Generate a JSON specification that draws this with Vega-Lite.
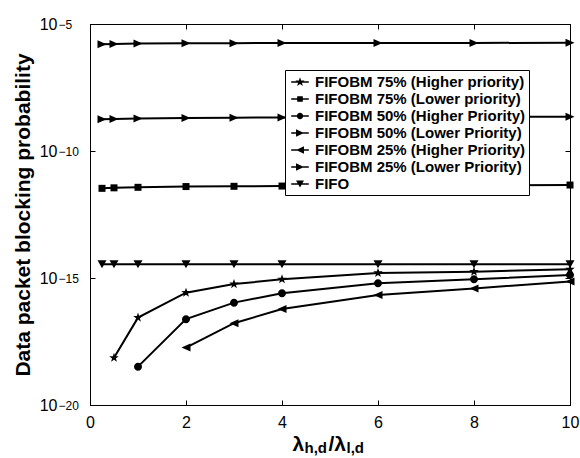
{
  "$schema": "https://vega.github.io/schema/vega-lite/v6.json",
  "width": 480,
  "height": 381,
  "autosize": {"type": "none"},
  "padding": {"left": 90, "top": 24, "right": 10, "bottom": 53},
  "config": {
    "font": "Liberation Sans",
    "view": {"stroke": "black", "strokeWidth": 1},
    "axis": {"grid": false, "domainColor": "black", "tickColor": "black", "labelColor": "black", "titleColor": "black", "labelFont": "Liberation Sans", "titleFont": "Liberation Sans"}
  },
  "datasets": {
    "d": [
      {"series": "FIFOBM 25% (Lower Priority)", "ratio": 0.25, "prob": 1.585e-6},
      {"series": "FIFOBM 25% (Lower Priority)", "ratio": 0.5, "prob": 1.622e-6},
      {"series": "FIFOBM 25% (Lower Priority)", "ratio": 1, "prob": 1.698e-6},
      {"series": "FIFOBM 25% (Lower Priority)", "ratio": 2, "prob": 1.738e-6},
      {"series": "FIFOBM 25% (Lower Priority)", "ratio": 3, "prob": 1.758e-6},
      {"series": "FIFOBM 25% (Lower Priority)", "ratio": 4, "prob": 1.778e-6},
      {"series": "FIFOBM 25% (Lower Priority)", "ratio": 6, "prob": 1.778e-6},
      {"series": "FIFOBM 25% (Lower Priority)", "ratio": 8, "prob": 1.799e-6},
      {"series": "FIFOBM 25% (Lower Priority)", "ratio": 10, "prob": 1.82e-6},
      {"series": "FIFOBM 50% (Lower Priority)", "ratio": 0.25, "prob": 1.778e-9},
      {"series": "FIFOBM 50% (Lower Priority)", "ratio": 0.5, "prob": 1.82e-9},
      {"series": "FIFOBM 50% (Lower Priority)", "ratio": 1, "prob": 1.905e-9},
      {"series": "FIFOBM 50% (Lower Priority)", "ratio": 2, "prob": 1.995e-9},
      {"series": "FIFOBM 50% (Lower Priority)", "ratio": 3, "prob": 2.042e-9},
      {"series": "FIFOBM 50% (Lower Priority)", "ratio": 4, "prob": 2.089e-9},
      {"series": "FIFOBM 50% (Lower Priority)", "ratio": 6, "prob": 2.138e-9},
      {"series": "FIFOBM 50% (Lower Priority)", "ratio": 8, "prob": 2.188e-9},
      {"series": "FIFOBM 50% (Lower Priority)", "ratio": 10, "prob": 2.239e-9},
      {"series": "FIFOBM 75% (Lower priority)", "ratio": 0.25, "prob": 3.388e-12},
      {"series": "FIFOBM 75% (Lower priority)", "ratio": 0.5, "prob": 3.548e-12},
      {"series": "FIFOBM 75% (Lower priority)", "ratio": 1, "prob": 3.715e-12},
      {"series": "FIFOBM 75% (Lower priority)", "ratio": 2, "prob": 3.981e-12},
      {"series": "FIFOBM 75% (Lower priority)", "ratio": 3, "prob": 4.074e-12},
      {"series": "FIFOBM 75% (Lower priority)", "ratio": 4, "prob": 4.169e-12},
      {"series": "FIFOBM 75% (Lower priority)", "ratio": 6, "prob": 4.365e-12},
      {"series": "FIFOBM 75% (Lower priority)", "ratio": 8, "prob": 4.467e-12},
      {"series": "FIFOBM 75% (Lower priority)", "ratio": 10, "prob": 4.571e-12},
      {"series": "FIFO", "ratio": 0.25, "prob": 3.467e-15},
      {"series": "FIFO", "ratio": 0.5, "prob": 3.467e-15},
      {"series": "FIFO", "ratio": 1, "prob": 3.467e-15},
      {"series": "FIFO", "ratio": 2, "prob": 3.467e-15},
      {"series": "FIFO", "ratio": 3, "prob": 3.467e-15},
      {"series": "FIFO", "ratio": 4, "prob": 3.467e-15},
      {"series": "FIFO", "ratio": 6, "prob": 3.467e-15},
      {"series": "FIFO", "ratio": 8, "prob": 3.467e-15},
      {"series": "FIFO", "ratio": 10, "prob": 3.467e-15},
      {"series": "FIFOBM 75% (Higher priority)", "ratio": 0.5, "prob": 7.24e-19},
      {"series": "FIFOBM 75% (Higher priority)", "ratio": 1, "prob": 2.754e-17},
      {"series": "FIFOBM 75% (Higher priority)", "ratio": 2, "prob": 2.63e-16},
      {"series": "FIFOBM 75% (Higher priority)", "ratio": 3, "prob": 5.754e-16},
      {"series": "FIFOBM 75% (Higher priority)", "ratio": 4, "prob": 8.913e-16},
      {"series": "FIFOBM 75% (Higher priority)", "ratio": 6, "prob": 1.585e-15},
      {"series": "FIFOBM 75% (Higher priority)", "ratio": 8, "prob": 1.778e-15},
      {"series": "FIFOBM 75% (Higher priority)", "ratio": 10, "prob": 2.188e-15},
      {"series": "FIFOBM 50% (Higher Priority)", "ratio": 1, "prob": 3.236e-19},
      {"series": "FIFOBM 50% (Higher Priority)", "ratio": 2, "prob": 2.399e-17},
      {"series": "FIFOBM 50% (Higher Priority)", "ratio": 3, "prob": 1.072e-16},
      {"series": "FIFOBM 50% (Higher Priority)", "ratio": 4, "prob": 2.512e-16},
      {"series": "FIFOBM 50% (Higher Priority)", "ratio": 6, "prob": 6.166e-16},
      {"series": "FIFOBM 50% (Higher Priority)", "ratio": 8, "prob": 8.913e-16},
      {"series": "FIFOBM 50% (Higher Priority)", "ratio": 10, "prob": 1.318e-15},
      {"series": "FIFOBM 25% (Higher Priority)", "ratio": 2, "prob": 1.82e-18},
      {"series": "FIFOBM 25% (Higher Priority)", "ratio": 3, "prob": 1.66e-17},
      {"series": "FIFOBM 25% (Higher Priority)", "ratio": 4, "prob": 6.026e-17},
      {"series": "FIFOBM 25% (Higher Priority)", "ratio": 6, "prob": 2.138e-16},
      {"series": "FIFOBM 25% (Higher Priority)", "ratio": 8, "prob": 3.89e-16},
      {"series": "FIFOBM 25% (Higher Priority)", "ratio": 10, "prob": 7.244e-16}
    ]
  },
  "data": {"name": "d"},
  "layer": [
    {
      "mark": {"type": "line", "color": "black", "strokeWidth": 2},
      "encoding": {
        "x": {"field": "ratio", "type": "quantitative", "scale": {"domain": [0, 10], "nice": false},
          "axis": {"orient": "bottom", "values": [0, 2, 4, 6, 8, 10], "tickSize": -5, "labelPadding": 14, "labelFontSize": 16, "labelFlush": false,
            "title": "λ", "titleFontSize": 21, "titleFontWeight": "bold", "titleX": 202, "titleY": 45, "titleAlign": "left", "titleBaseline": "alphabetic", "titleAngle": 0}},
        "y": {"field": "prob", "type": "quantitative", "scale": {"type": "log", "domain": [1e-20, 1e-5], "nice": false},
          "axis": {"orient": "left", "values": [1e-20, 1e-15, 1e-10, 1e-5], "tickSize": -5, "labelPadding": 38, "labelFontSize": 16, "labelFlush": false,
            "labelExpr": "'10'",
            "title": "Data packet blocking probability", "titleFontSize": 21, "titleFontWeight": "bold", "titlePadding": 6}},
        "detail": {"field": "series"}
      }
    },
    {
      "mark": {"type": "point", "filled": true, "color": "black", "size": 100, "opacity": 1},
      "encoding": {
        "x": {"field": "ratio", "type": "quantitative", "axis": null},
        "y": {"field": "prob", "type": "quantitative", "axis": null},
        "shape": {"field": "series", "type": "nominal", "legend": null,
          "scale": {
            "domain": ["FIFOBM 75% (Higher priority)", "FIFOBM 75% (Lower priority)", "FIFOBM 50% (Higher Priority)", "FIFOBM 50% (Lower Priority)", "FIFOBM 25% (Higher Priority)", "FIFOBM 25% (Lower Priority)", "FIFO"],
            "range": [
              "M0,-1L0.235,-0.324L0.951,-0.309L0.38,0.124L0.588,0.809L0,0.4L-0.588,0.809L-0.38,0.124L-0.951,-0.309L-0.235,-0.324Z",
              "M-0.7,-0.7H0.7V0.7H-0.7Z",
              "M0.8,0A0.8,0.8,0,1,1,-0.8,0A0.8,0.8,0,1,1,0.8,0Z",
              "M0.9,0L-0.9,-0.8V0.8Z",
              "M-0.9,0L0.9,-0.8V0.8Z",
              "M0.9,0L-0.9,-0.8V0.8Z",
              "M-0.9,-0.8H0.9L0,0.8Z"
            ]}}
      }
    },
    {
      "mark": {"type": "point", "filled": true, "color": "black", "opacity": 0},
      "encoding": {
        "x": {"field": "ratio", "type": "quantitative", "axis": null},
        "y": {"field": "prob", "type": "quantitative", "axis": null},
        "shape": {"field": "series", "type": "nominal",
          "scale": {
            "domain": ["FIFOBM 75% (Higher priority)", "FIFOBM 75% (Lower priority)", "FIFOBM 50% (Higher Priority)", "FIFOBM 50% (Lower Priority)", "FIFOBM 25% (Higher Priority)", "FIFOBM 25% (Lower Priority)", "FIFO"],
            "range": [
              "M-1,-0.09L1,-0.09L1,0.09L-1,0.09ZM0,-0.55L0.13,-0.178L0.523,-0.17L0.209,0.068L0.323,0.445L0,0.22L-0.323,0.445L-0.209,0.068L-0.523,-0.17L-0.13,-0.178Z",
              "M-1,-0.09L1,-0.09L1,0.09L-1,0.09ZM-0.32,-0.32L0.32,-0.32L0.32,0.32L-0.32,0.32Z",
              "M-1,-0.09L1,-0.09L1,0.09L-1,0.09ZM0.36,0A0.36,0.36,0,1,1,-0.36,0A0.36,0.36,0,1,1,0.36,0Z",
              "M-1,-0.09L1,-0.09L1,0.09L-1,0.09ZM0.45,0L-0.45,0.42L-0.45,-0.42Z",
              "M-1,-0.09L1,-0.09L1,0.09L-1,0.09ZM-0.45,0L0.45,-0.42L0.45,0.42Z",
              "M-1,-0.09L1,-0.09L1,0.09L-1,0.09ZM0.45,0L-0.45,0.42L-0.45,-0.42Z",
              "M-1,-0.09L1,-0.09L1,0.09L-1,0.09ZM-0.45,-0.4L0.45,-0.4L0,0.4Z"
            ]},
          "legend": {
            "title": null, "orient": "none", "legendX": 195, "legendY": 46,
            "strokeColor": "black", "fillColor": "white", "padding": 3, "cornerRadius": 0,
            "labelFont": "Liberation Sans", "labelFontSize": 15, "labelFontWeight": "bold", "labelColor": "black", "labelLimit": 400,
            "symbolSize": 310, "rowPadding": 0, "labelOffset": 6, "symbolOffset": 3,
            "symbolFillColor": "black", "symbolStrokeWidth": 0, "symbolOpacity": 1
          }}
      }
    },
    {
      "mark": {"type": "point", "opacity": 0},
      "encoding": {
        "x": {"field": "ratio", "type": "quantitative", "axis": {"orient": "top", "values": [0, 2, 4, 6, 8, 10], "tickSize": -5, "labels": false, "title": null}},
        "y": {"field": "prob", "type": "quantitative", "axis": {"orient": "right", "values": [1e-20, 1e-15, 1e-10, 1e-5], "tickSize": -5, "labels": false, "title": null}}
      }
    },
    {
      "mark": {"type": "point", "opacity": 0},
      "encoding": {
        "x": {"field": "ratio", "type": "quantitative", "axis": {"orient": "bottom", "labels": false, "ticks": false, "domain": false,
          "title": "h,d", "titleFontSize": 15, "titleFontWeight": "bold", "titleX": 214, "titleY": 47, "titleAlign": "left", "titleBaseline": "alphabetic", "titleAngle": 0}},
        "y": {"field": "prob", "type": "quantitative", "axis": {"orient": "left", "values": [1e-20, 1e-15, 1e-10, 1e-5], "ticks": false, "domain": false, "title": null,
          "labelExpr": "'−' + round(-log(datum.value)/LN10)", "labelFontSize": 12, "labelAlign": "left", "labelPadding": 32, "labelDy": -9, "labelFlush": false}}
      }
    },
    {
      "mark": {"type": "point", "opacity": 0},
      "encoding": {
        "x": {"field": "ratio", "type": "quantitative", "axis": {"orient": "bottom", "labels": false, "ticks": false, "domain": false,
          "title": "/λ", "titleFontSize": 21, "titleFontWeight": "bold", "titleX": 238, "titleY": 45, "titleAlign": "left", "titleBaseline": "alphabetic", "titleAngle": 0}},
        "y": {"field": "prob", "type": "quantitative", "axis": null}
      }
    },
    {
      "mark": {"type": "point", "opacity": 0},
      "encoding": {
        "x": {"field": "ratio", "type": "quantitative", "axis": {"orient": "bottom", "labels": false, "ticks": false, "domain": false,
          "title": "l,d", "titleFontSize": 15, "titleFontWeight": "bold", "titleX": 256, "titleY": 47, "titleAlign": "left", "titleBaseline": "alphabetic", "titleAngle": 0}},
        "y": {"field": "prob", "type": "quantitative", "axis": null}
      }
    }
  ],
  "resolve": {"scale": {"shape": "independent"}, "legend": {"shape": "independent"}, "axis": {"x": "independent", "y": "independent"}}
}
